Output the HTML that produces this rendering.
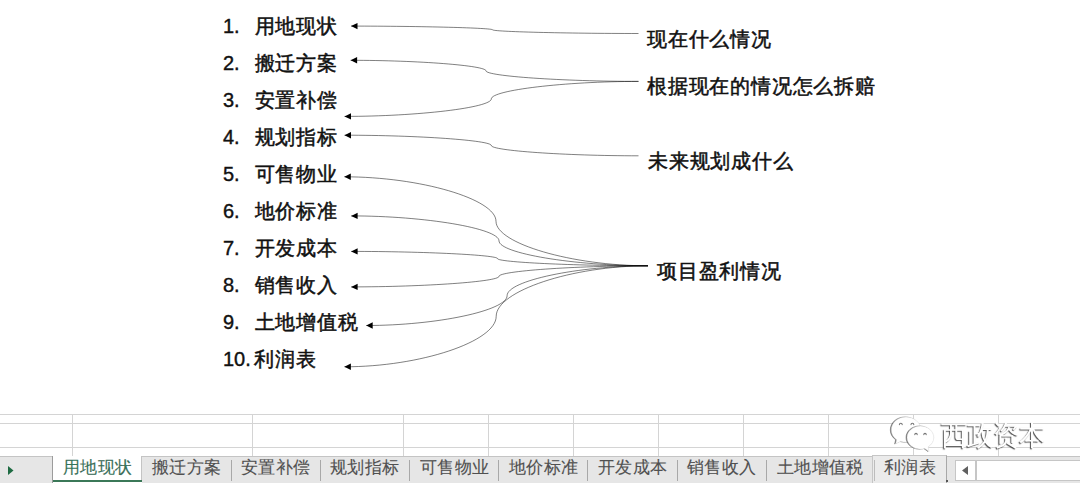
<!DOCTYPE html>
<html><head><meta charset="utf-8">
<style>
*{margin:0;padding:0;box-sizing:border-box}
html,body{width:1080px;height:483px;overflow:hidden;background:#fff;font-family:"Liberation Sans",sans-serif}
.abs{position:absolute;white-space:nowrap}
.it{font-size:20px;color:#111;line-height:1;letter-spacing:0.8px}
.it .n{position:absolute;left:0;letter-spacing:0;-webkit-text-stroke:0.4px #111}
.it .t{position:absolute;left:31.5px;-webkit-text-stroke:0.5px #111}
.lb{font-size:20px;color:#111;line-height:1;letter-spacing:0.8px;-webkit-text-stroke:0.5px #111}
.gh{position:absolute;left:0;width:1080px;height:1px;background:#d4d4d4}
.gv{position:absolute;top:414px;width:1px;height:42px;background:#d4d4d4}
#bar{position:absolute;left:0;top:456px;width:1080px;height:27px;background:#e6e6e6;border-top:1px solid #c4c4c4}
.tab{position:absolute;top:0;height:26px;font-size:17px;color:#505050;line-height:22px;letter-spacing:0.3px;-webkit-text-stroke:0.12px #505050}
.sep{position:absolute;top:3px;width:1px;height:21px;background:#a8a8a8}
</style></head><body>

<!-- left items -->
<div class="abs it" style="left:223px;top:16px"><span class="n">1.</span><span class="t">用地现状</span></div>
<div class="abs it" style="left:223px;top:53px"><span class="n">2.</span><span class="t">搬迁方案</span></div>
<div class="abs it" style="left:223px;top:90px"><span class="n">3.</span><span class="t">安置补偿</span></div>
<div class="abs it" style="left:223px;top:127px"><span class="n">4.</span><span class="t">规划指标</span></div>
<div class="abs it" style="left:223px;top:164px"><span class="n">5.</span><span class="t">可售物业</span></div>
<div class="abs it" style="left:223px;top:201px"><span class="n">6.</span><span class="t">地价标准</span></div>
<div class="abs it" style="left:223px;top:238px"><span class="n">7.</span><span class="t">开发成本</span></div>
<div class="abs it" style="left:223px;top:275px"><span class="n">8.</span><span class="t">销售收入</span></div>
<div class="abs it" style="left:223px;top:312px"><span class="n">9.</span><span class="t">土地增值税</span></div>
<div class="abs it" style="left:223px;top:349px"><span class="n">10.</span><span class="t" style="left:31px">利润表</span></div>

<!-- right labels -->
<div class="abs lb" style="left:647px;top:28.5px">现在什么情况</div>
<div class="abs lb" style="left:647px;top:76px">根据现在的情况怎么拆赔</div>
<div class="abs lb" style="left:648px;top:151px">未来规划成什么</div>
<div class="abs lb" style="left:657px;top:261px">项目盈利情况</div>

<!-- connectors -->
<svg class="abs" style="left:0;top:0" width="1080" height="410" viewBox="0 0 1080 410">
<g fill="none" stroke="#000" stroke-width="0.5"><path d="M638.5,33.5 C565.55,33.5 492.6,31.65 492.6,29.8 C492.6,27.95 421.8,26.1 351,26.1"/>
<path d="M638.5,81.4 C562.25,81.4 486,76.12 486,70.85 C486,65.57 418.3,60.3 350.6,60.3"/>
<path d="M638.5,81.4 C564.9,81.4 491.3,90.15 491.3,98.9 C491.3,107.65 417.9,116.4 344.5,116.4"/>
<path d="M638.5,155.8 C564.9,155.8 491.3,150.65 491.3,145.5 C491.3,140.35 417.9,135.2 344.5,135.2"/>
<path d="M648,265.8 C572,265.8 496,243.55 496,221.3 C496,199.05 420.15,176.8 344.3,176.8"/>
<path d="M648,265.8 C573.5,265.8 499,253.33 499,240.85 C499,228.38 425.05,215.9 351.1,215.9"/>
<path d="M648,265.8 C572.75,265.8 497.5,262.2 497.5,258.6 C497.5,255 424.3,251.4 351.1,251.4"/>
<path d="M648,265.8 C573.5,265.8 499,271.08 499,276.35 C499,281.62 425.05,286.9 351.1,286.9"/>
<path d="M648,265.8 C577.55,265.8 507.1,280.73 507.1,295.65 C507.1,310.57 436.65,325.5 366.2,325.5"/>
<path d="M648,265.8 C572.1,265.8 496.2,291.05 496.2,316.3 C496.2,341.55 420.3,366.8 344.4,366.8"/></g>
<g fill="#000"><path d="M351,26.1 L357.5,22.9 L357.5,29.3 z"/>
<path d="M350.6,60.3 L357.1,57.1 L357.1,63.5 z"/>
<path d="M344.5,116.4 L351,113.2 L351,119.6 z"/>
<path d="M344.5,135.2 L351,132 L351,138.4 z"/>
<path d="M344.3,176.8 L350.8,173.6 L350.8,180 z"/>
<path d="M351.1,215.9 L357.6,212.7 L357.6,219.1 z"/>
<path d="M351.1,251.4 L357.6,248.2 L357.6,254.6 z"/>
<path d="M351.1,286.9 L357.6,283.7 L357.6,290.1 z"/>
<path d="M366.2,325.5 L372.7,322.3 L372.7,328.7 z"/>
<path d="M344.4,366.8 L350.9,363.6 L350.9,370 z"/></g>
</svg>

<!-- grid -->
<div class="gh" style="top:414px"></div>
<div class="gh" style="top:423px"></div>
<div class="gh" style="top:447px"></div>
<div class="gv" style="left:72px"></div>
<div class="gv" style="left:252px"></div>
<div class="gv" style="left:403px"></div>
<div class="gv" style="left:488px"></div>
<div class="gv" style="left:573px"></div>
<div class="gv" style="left:658px"></div>
<div class="gv" style="left:743px"></div>
<div class="gv" style="left:828px"></div>
<div class="gv" style="left:913px"></div>
<div class="gv" style="left:998px"></div>

<!-- tab bar -->
<div id="bar">
  <div style="position:absolute;left:52px;top:-1px;width:1px;height:27px;background:#9c9c9c"></div>
  <svg style="position:absolute;left:8px;top:9px" width="6" height="9"><path d="M0,0 L5.5,4.5 L0,9z" fill="#1e6b42"/></svg>
  <div style="position:absolute;left:53px;top:-1px;width:89px;height:27px;background:#fff"></div>
  <div class="tab" style="left:63px;color:#34755a">用地现状</div>
  <div style="position:absolute;left:141px;top:-1px;width:1px;height:25px;background:#c4c4c4"></div>
  <div style="position:absolute;left:53px;top:23px;width:89px;height:2px;background:#3b7858"></div>
  <div class="tab" style="left:152px">搬迁方案</div>
  <div class="sep" style="left:231px"></div>
  <div class="tab" style="left:241px">安置补偿</div>
  <div class="sep" style="left:320px"></div>
  <div class="tab" style="left:330px">规划指标</div>
  <div class="sep" style="left:409px"></div>
  <div class="tab" style="left:420px">可售物业</div>
  <div class="sep" style="left:498px"></div>
  <div class="tab" style="left:509px">地价标准</div>
  <div class="sep" style="left:587px"></div>
  <div class="tab" style="left:598px">开发成本</div>
  <div class="sep" style="left:677px"></div>
  <div class="tab" style="left:687px">销售收入</div>
  <div class="sep" style="left:766px"></div>
  <div class="tab" style="left:777px">土地增值税</div>
  <div style="position:absolute;left:872px;top:-2px;width:75px;height:28px;background:#ebebeb;border:1px solid #c6c6c6;border-right-color:#a8a8a8;border-bottom:none"></div>
  <div style="position:absolute;left:874px;top:3px;width:1px;height:21px;background:#bcbcbc"></div>
  <div style="position:absolute;left:946px;top:23px;width:2px;height:2px;background:#555"></div>
  <div class="tab" style="left:884px">利润表</div>
  <!-- scrollbar -->
  <div style="position:absolute;left:955px;top:3px;width:125px;height:21px;background:#fff;border:1px solid #c6c6c6;border-right:none"></div>
  <div style="position:absolute;left:975px;top:3px;width:2px;height:21px;background:#c6c6c6"></div>
  <svg style="position:absolute;left:962px;top:9px" width="7" height="9"><path d="M6,0 L0,4.5 L6,9z" fill="#606060"/></svg>
</div>

<!-- watermark -->
<div class="abs" style="left:941px;top:422px;font-size:26px;line-height:1;color:#fff;transform:scaleY(1.06);transform-origin:0 0;text-shadow:-1px 1px 1px rgba(0,0,0,0.7)">西政资本</div>
<svg class="abs" style="left:888px;top:414px;overflow:visible" width="50" height="40" viewBox="0 0 50 40">
<g fill="#fff" stroke="#d8d8d8" stroke-width="0.5">
<path style="filter:drop-shadow(-0.8px 0.8px 0.7px rgba(0,0,0,0.6))" d="M18,3 C9.5,3 3.3,8.8 3.3,16 C3.3,20 5.3,23.4 8.6,25.8 L7.6,30 L12.6,27.4 C14.3,27.9 16.1,28.2 18,28.2 C26.3,28.2 33,22.6 33,16 C33,8.8 26.3,3 18,3z"/>
<path style="filter:drop-shadow(-0.8px 0.8px 0.7px rgba(0,0,0,0.6))" d="M32.4,12 C25,12 19,17.2 19,23.6 C19,30 25,35.2 32.4,35.2 C33.9,35.2 35.4,35 36.7,34.5 L41,37.6 L40.2,32.8 C43.6,30.7 45.8,27.4 45.8,23.6 C45.8,17.2 39.8,12 32.4,12z"/>
</g>
<g fill="none" stroke="#777" stroke-width="1.1" stroke-linecap="round"><path d="M11.4,10.6 a1.4,1.4 0 0 1 2.8,0"/><path d="M23,10.6 a1.4,1.4 0 0 1 2.8,0"/><path d="M26.8,20.6 a1.2,1.2 0 0 1 2.4,0"/><path d="M35.8,20.6 a1.2,1.2 0 0 1 2.4,0"/></g>
</svg>


</body></html>
